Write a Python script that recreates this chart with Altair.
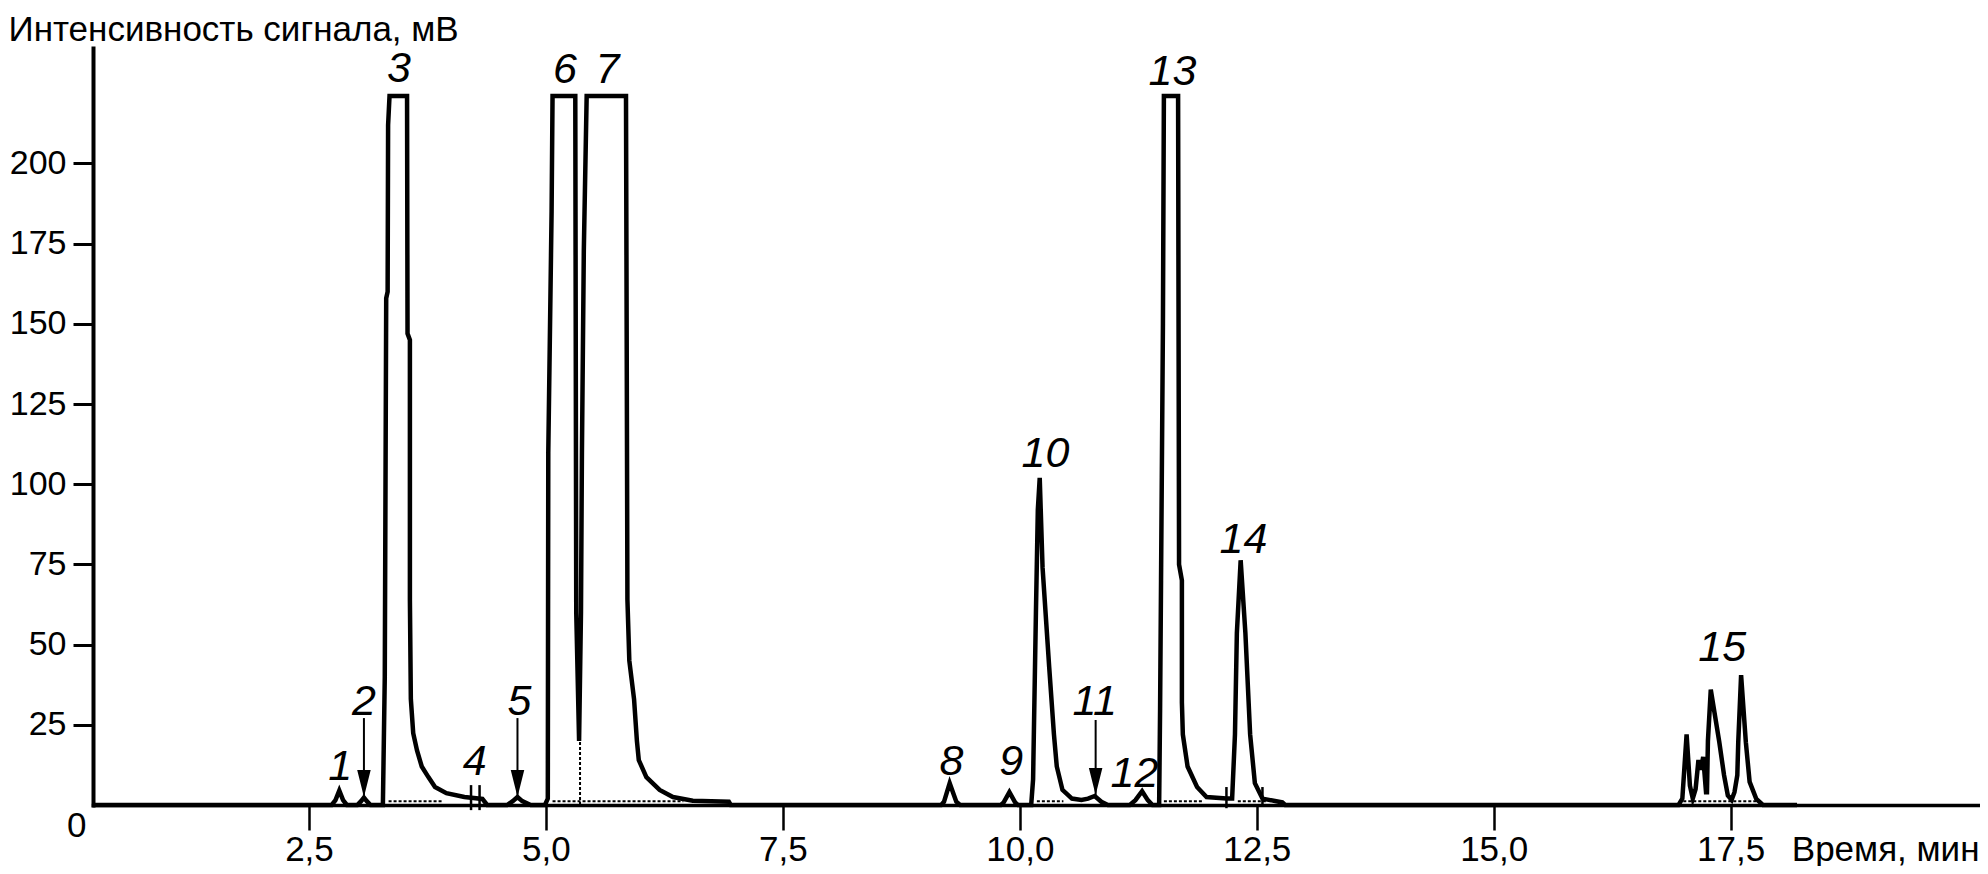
import altair as alt
import pandas as pd

# ---------------- data ----------------
time_min = [0.2215, 2.74, 2.78, 2.82, 2.86, 2.90, 3.01, 3.05, 3.08, 3.11, 3.15,
            3.28, 3.30, 3.315, 3.33, 3.335, 3.35, 3.535, 3.54, 3.565, 3.565, 3.575,
            3.60, 3.64, 3.69, 3.76, 3.83, 3.95, 4.14, 4.33, 4.38,
            4.59, 4.65, 4.70, 4.75, 4.84,
            4.99, 5.02, 5.025, 5.04, 5.06, 5.07, 5.31, 5.32, 5.35, 5.37, 5.38, 5.40,
            5.43, 5.845, 5.86, 5.88, 5.93, 5.96, 5.98, 6.06, 6.20, 6.34, 6.55, 6.93, 6.95,
            9.17, 9.20, 9.26, 9.33, 9.37,
            9.80, 9.83, 9.89, 9.95, 9.98,
            10.12, 10.14, 10.17, 10.19, 10.21, 10.24, 10.31, 10.36, 10.39, 10.45,
            10.55, 10.65, 10.72, 10.79, 10.86, 10.93,
            11.16, 11.22, 11.29, 11.35, 11.40,
            11.47, 11.48, 11.49, 11.51, 11.52, 11.67, 11.68, 11.71, 11.71, 11.72,
            11.77, 11.87, 11.97, 12.18, 12.24,
            12.27, 12.29, 12.33, 12.38, 12.43, 12.48, 12.56, 12.77, 12.80,
            16.95, 16.99, 17.035, 17.07, 17.10, 17.13, 17.16, 17.185, 17.21, 17.24,
            17.25, 17.26, 17.29, 17.38, 17.43, 17.47, 17.51,
            17.54, 17.57, 17.58, 17.61, 17.66, 17.70, 17.77, 17.84, 18.20]
signal_mv = [0, 0, 1.5, 4.5, 1.5, 0, 0, 1.2, 2.3, 1.2, 0,
             0, 40, 158, 160, 212, 221, 221, 147, 145, 64, 33,
             22.4, 17, 12, 8.7, 5.6, 3.7, 2.5, 1.9, 0,
             0, 1.2, 2.5, 1.2, 0,
             0, 2, 110, 142, 185, 221, 221, 60, 20, 60, 110, 173,
             221, 221, 64, 45, 33, 20, 14, 8.7, 4.7, 2.5, 1.3, 1.0, 0,
             0, 1, 6.8, 1, 0,
             0, 0.8, 4.0, 0.8, 0,
             0, 8, 60, 92, 102, 74, 43, 22, 12, 4.7,
             2.0, 1.6, 2.0, 2.8, 1.0, 0,
             0, 1.5, 4.3, 1.5, 0,
             0, 30, 70, 150, 221, 221, 75, 70, 32, 22,
             12, 5.6, 2.5, 2.0, 2.0,
             22, 53.6, 76.3, 53.6, 22, 6.8, 2.0, 0.8, 0,
             0, 2, 22, 6, 2, 5, 14, 11, 15, 4,
             4, 20, 36, 19.6, 9.3, 3, 1.6,
             4, 9.3, 19.6, 40.5, 19.6, 7.2, 1.9, 0, 0]

peak_labels = ["1", "2", "3", "4", "5", "6", "7", "8", "9", "10", "11", "12", "13", "14", "15"]
label_time = [2.83, 3.08, 3.45, 4.25, 4.72, 5.20, 5.65, 9.28, 9.91, 10.27, 10.79, 11.21, 11.61, 12.36, 17.41]
label_signal = [7.8, 28.0, 225.5, 9.3, 28.0, 225.0, 225.0, 9.3, 9.3, 105.4, 28.0, 5.7, 224.5, 78.5, 45.0]

arrow_time = [3.08, 4.70, 10.80]
arrow_top = [27.1, 27.1, 26.5]
arrow_tip = [2.5, 2.5, 3.1]

mark_time = [4.21, 4.30, 12.18, 12.56]
mark_top = [6.2, 6.2, 5.6, 5.6]
mark_bottom = [-1.6, -1.6, -1.0, 0.0]

dot_start = [3.34, 5.07, 10.18, 11.52, 12.30, 17.00]
dot_end = [3.90, 6.45, 10.46, 11.93, 12.60, 17.77]
dot_level = 1.2
drop_time = [5.36]
drop_top = [20.0]

x_ticks = [2.5, 5.0, 7.5, 10.0, 12.5, 15.0, 17.5]
y_ticks = [25, 50, 75, 100, 125, 150, 175, 200]
origin_label = ["0"]
origin_time = [0.05]
origin_signal = [-9.9]

y_title = "Интенсивность сигнала, мВ"
x_title = "Время, мин"

# ---------------- chart ----------------
W, H = 1886, 757
FONT = "Liberation Sans"
TICK_FS = 35
xs = alt.Scale(domain=[0.2215, 20.12], nice=False, zero=False)
ys = alt.Scale(domain=[0, 236], nice=False, zero=False)

trace = pd.DataFrame({"t": time_min, "s": signal_mv, "i": list(range(len(time_min)))})

x_axis = alt.Axis(
    values=x_ticks,
    labelExpr="replace(format(datum.value, '.1f'), '.', ',')",
    tickSize=25, tickWidth=2.5, tickColor="black",
    domainColor="black", domainWidth=3.5, domainCap="square",
    labelFont=FONT, labelFontSize=TICK_FS, labelColor="black",
    labelBaseline="alphabetic", labelPadding=30, labelFlush=False, labelOverlap=False,
    title=x_title, titleFont=FONT, titleFontSize=TICK_FS, titleFontWeight="normal",
    titleColor="black", titleAlign="right", titleBaseline="alphabetic",
    titleX=W, titleY=55, grid=False,
)
y_axis = alt.Axis(
    values=y_ticks,
    tickSize=20, tickWidth=3, tickColor="black",
    domainColor="black", domainWidth=4, domainCap="square",
    labelFont=FONT, labelFontSize=34, labelColor="black", labelPadding=7,
    labelFlush=False, labelOverlap=False,
    title=y_title, titleFont=FONT, titleFontSize=35, titleFontWeight="normal",
    titleColor="black", titleAngle=0, titleAlign="left", titleBaseline="alphabetic",
    titleX=-85, titleY=-8, grid=False,
)


def X(field="t"):
    return alt.X(f"{field}:Q", scale=xs, axis=x_axis)


def Y(field="s"):
    return alt.Y(f"{field}:Q", scale=ys, axis=y_axis)


line = alt.Chart(trace).mark_line(color="black", strokeWidth=4.5).encode(
    x=X(), y=Y(), order="i:Q",
)

dots = alt.Chart(pd.DataFrame({"t": dot_start, "t2": dot_end, "s": [dot_level] * len(dot_start)})).mark_rule(
    color="black", strokeWidth=2, strokeDash=[3, 2]
).encode(x=X(), x2="t2:Q", y=Y())

drop = alt.Chart(pd.DataFrame({"t": drop_time, "s": [0.0], "s2": drop_top})).mark_rule(
    color="black", strokeWidth=2, strokeDash=[3, 2]
).encode(x=X(), y=Y(), y2="s2:Q")

marks = alt.Chart(pd.DataFrame({"t": mark_time, "s": mark_bottom, "s2": mark_top})).mark_rule(
    color="black", strokeWidth=2.5
).encode(x=X(), y=Y(), y2="s2:Q")

shafts = alt.Chart(pd.DataFrame({"t": arrow_time, "s": arrow_tip, "s2": arrow_top})).mark_rule(
    color="black", strokeWidth=2
).encode(x=X(), y=Y(), y2="s2:Q")

heads = alt.Chart(pd.DataFrame({"t": arrow_time, "s": arrow_tip})).mark_point(
    shape="M-0.5,-2L0.5,-2L0,0Z", filled=True, color="black", opacity=1, size=729, strokeWidth=0
).encode(x=X(), y=Y())

labels = alt.Chart(pd.DataFrame({"t": label_time, "s": label_signal, "lab": peak_labels})).mark_text(
    font=FONT, fontSize=43, fontStyle="italic", align="center", baseline="alphabetic", color="black"
).encode(x=X(), y=Y(), text="lab:N")

origin = alt.Chart(pd.DataFrame({"t": origin_time, "s": origin_signal, "lab": origin_label})).mark_text(
    font=FONT, fontSize=TICK_FS, align="center", baseline="alphabetic", color="black"
).encode(x=X(), y=Y(), text="lab:N")

chart = alt.layer(line, dots, drop, marks, shafts, heads, labels, origin).properties(
    width=W, height=H,
    autosize=alt.AutoSizeParams(type="none"),
    padding={"left": 85, "top": 40, "right": 1, "bottom": 61},
    background="white",
).configure_view(stroke=None)

chart.save("out.html", embed_options={"renderer": "svg", "actions": False})
